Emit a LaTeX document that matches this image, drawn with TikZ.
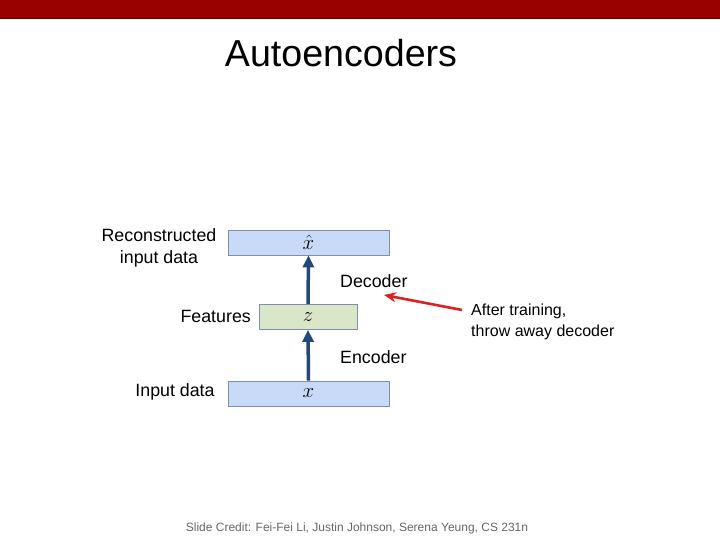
\documentclass[tikz,border=0pt]{standalone}
\usepackage{fontspec}
\setmainfont{Liberation Sans}
\usetikzlibrary{arrows.meta,positioning}
\definecolor{slidered}{HTML}{990000}
\definecolor{boxblue}{HTML}{C9DAF8}
\definecolor{boxgreen}{HTML}{D9E7C8}
\definecolor{boxline}{HTML}{7F8FA9}
\definecolor{flow}{HTML}{24487A}
\definecolor{note}{HTML}{E02020}
\tikzset{
  capa/.style={draw=boxline, line width=0.8pt, minimum height=25pt, inner sep=0pt,
    font=\fontsize{22}{24}\selectfont},
  etiq/.style={font=\fontsize{17.8}{21}\selectfont, inner sep=0pt, align=center},
  flujo/.style={-{Triangle[length=12pt, width=11pt]}, line width=3.5pt, color=flow},
}

\begin{document}
\begin{tikzpicture}[x=1pt, y=-1pt]
  \useasboundingbox (0,0) rectangle (720,540);
  \fill[slidered] (0,0) rectangle (720,18);
  \draw[slidered!60!black, line width=0.8pt] (0,18) -- (720,18);
  \node[font=\fontsize{37.6}{40}\selectfont] (titulo) at (341,53) {Autoencoders};
  % capas
  \node[capa, fill=boxblue, minimum width=161pt] (xhat) at (308.5,242.5) {$\hat{x}$};
  \node[capa, fill=boxgreen, minimum width=98pt] (z) at (308,317) {$z$};
  \node[capa, fill=boxblue, minimum width=161pt] (x) at (308.5,393.5) {$x$};
  \draw[flujo] (x.north) -- (z.south);
  \draw[flujo] (z.north) -- (xhat.south);
  % etiquetas
  \node[etiq] (lrec) at (159,248) {Reconstructed\\[1pt]input data};
  \node[etiq, anchor=east] (lfeat) at (251,316) {Features};
  \node[etiq] (lin) at (175,392) {Input data};
  \node[etiq, anchor=west] (ldec) at (340,281) {Decoder};
  \node[etiq, anchor=west] (lenc) at (340,357) {Encoder};
  \node[font=\fontsize{16}{19}\selectfont, inner sep=0pt, anchor=west, align=left] (nota) at (471,322)
    {After training,\\[2pt]throw away decoder};
  \coordinate (punta) at (384,295);
  \draw[-{Stealth[length=12pt, width=10pt]}, line width=2.6pt, note] (462,310) -- (punta);
  \node[font=\fontsize{12}{15}\selectfont, text=black!60] (credito) at (357,528)
    {Slide Credit: Fei-Fei Li, Justin Johnson, Serena Yeung, CS 231n};
\end{tikzpicture}
\end{document}
